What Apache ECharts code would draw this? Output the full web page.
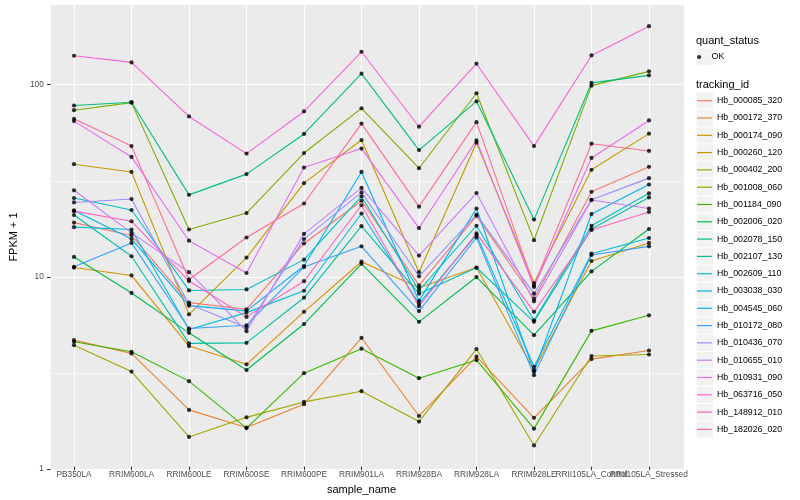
<!DOCTYPE html>
<html><head><meta charset="utf-8">
<script src="https://cdn.jsdelivr.net/npm/echarts@6/dist/echarts.min.js"></script>
<style>html,body{margin:0;padding:0;background:#fff}#c{width:800px;height:500px}</style>
</head><body><div id="c"></div>
<script>
// ---- data ----
const categories = ['PB350LA','RRIM600LA','RRIM600LE','RRIM600SE','RRIM600PE','RRIM901LA','RRIM928BA','RRIM928LA','RRIM928LE','RRII105LA_Control','RRII105LA_Stressed'];
const yTickValues = [1, 10, 100];
const yMinorValues = [3.1623, 31.623];
const trackingIds = ['Hb_000085_320','Hb_000172_370','Hb_000174_090','Hb_000260_120','Hb_000402_200','Hb_001008_060','Hb_001184_090','Hb_002006_020','Hb_002078_150','Hb_002107_130','Hb_002609_110','Hb_003038_030','Hb_004545_060','Hb_010172_080','Hb_010436_070','Hb_010655_010','Hb_010931_090','Hb_063716_050','Hb_148912_010','Hb_182026_020'];
const lineColors = ['#F8766D','#EA8331','#D89000','#C09B00','#A3A500','#7CAE00','#39B600','#00BB4E','#00BF7D','#00C1A3','#00BFC4','#00BAE0','#00B0F6','#35A2FF','#9590FF','#C77CFF','#E76BF3','#FA62DB','#FF62BC','#FF6C91'];

const Hb_000085_320 = [18.9, 16.2, 7.21, 6.65, 14.7, 24.6, 8.87, 20.5, 7.56, 27.4, 37.0];
const Hb_000172_370 = [4.59, 3.91, 1.98, 1.60, 2.12, 4.72, 1.84, 3.76, 1.80, 3.65, 4.05];
const Hb_000174_090 = [11.0, 10.0, 4.27, 3.43, 6.45, 11.8, 8.63, 11.0, 3.20, 11.9, 14.8];
const Hb_000260_120 = [38.2, 34.8, 6.26, 12.4, 30.4, 51.1, 10.4, 49.5, 9.13, 35.7, 55.2];
const Hb_000402_200 = [4.32, 3.14, 1.43, 1.81, 2.18, 2.48, 1.72, 4.12, 1.29, 3.79, 3.86];
const Hb_001008_060 = [73.2, 80.2, 17.4, 21.2, 43.7, 74.9, 36.4, 89.8, 15.3, 98.4, 116.9];
const Hb_001184_090 = [4.50, 3.99, 2.80, 1.59, 3.08, 4.14, 2.90, 3.61, 1.58, 5.13, 6.19];
const Hb_002006_020 = [12.5, 8.10, 5.01, 3.20, 5.57, 11.5, 5.72, 9.81, 4.87, 10.5, 17.5];
const Hb_002078_150 = [77.5, 80.6, 26.4, 33.9, 55.0, 113.7, 45.3, 81.5, 19.6, 101.7, 111.4];
const Hb_002107_130 = [20.7, 12.6, 4.41, 4.44, 7.65, 18.1, 8.03, 10.97, 5.72, 17.5, 25.6];
const Hb_002609_110 = [25.4, 22.0, 8.35, 8.45, 12.1, 25.9, 8.35, 18.2, 5.83, 18.2, 26.9];
const Hb_003038_030 = [17.9, 17.4, 5.21, 6.39, 8.32, 21.1, 7.12, 16.3, 3.33, 13.0, 15.7];
const Hb_004545_060 = [21.9, 15.5, 6.95, 6.53, 11.2, 34.8, 7.36, 22.4, 3.14, 20.96, 29.9];
const Hb_010172_080 = [11.1, 14.8, 5.28, 5.49, 11.06, 14.2, 6.51, 15.8, 3.01, 12.8, 14.2];
const Hb_010436_070 = [24.1, 25.1, 7.06, 5.34, 15.5, 27.2, 9.90, 20.8, 8.03, 24.9, 32.3];
const Hb_010655_010 = [27.9, 16.7, 10.4, 5.11, 16.5, 28.7, 12.7, 27.0, 7.32, 24.8, 22.4];
const Hb_010931_090 = [64.2, 41.7, 15.2, 10.3, 36.7, 46.1, 17.7, 50.9, 8.70, 41.2, 64.7];
const Hb_063716_050 = [141.1, 130.2, 67.9, 43.4, 72.1, 148.0, 60.0, 128.2, 47.5, 141.6, 201.5];
const Hb_148912_010 = [21.7, 19.2, 9.35, 6.07, 9.33, 23.3, 6.90, 16.6, 6.45, 17.3, 21.5];
const Hb_182026_020 = [66.0, 47.5, 9.53, 15.8, 23.8, 62.3, 22.9, 63.4, 8.87, 48.9, 44.8];

const seriesValues = [Hb_000085_320, Hb_000172_370, Hb_000174_090, Hb_000260_120, Hb_000402_200, Hb_001008_060, Hb_001184_090, Hb_002006_020, Hb_002078_150, Hb_002107_130, Hb_002609_110, Hb_003038_030, Hb_004545_060, Hb_010172_080, Hb_010436_070, Hb_010655_010, Hb_010931_090, Hb_063716_050, Hb_148912_010, Hb_182026_020];

// ---- layout ----
const FONT = 'Liberation Sans';
const panel = {left: 40, top: 5, width: 644, height: 464};
const dataGrid = {left: 74, top: 5, width: 575, height: 464};
const yMin = 1, yMax = 260;
const legX = 697, keyStep = 17.3, leg2Top = 92.05, leg1Top = 48.35;

const lineSeries = trackingIds.map((id, i) => ({
  name: id, type: 'line', xAxisIndex: 1, yAxisIndex: 2,
  data: seriesValues[i], showSymbol: false, symbol: 'none',
  color: lineColors[i],
  lineStyle: {color: lineColors[i], width: 1.1},
  emphasis: {disabled: true}, silent: true, z: 2
}));
const pointData = [];
seriesValues.forEach(vals => vals.forEach((v, j) => pointData.push([j, v])));
const pointSeries = {
  name: 'OK', type: 'scatter', xAxisIndex: 1, yAxisIndex: 2,
  data: pointData, symbol: 'circle', symbolSize: 4.2,
  itemStyle: {color: '#000'}, color: '#000',
  emphasis: {disabled: true}, silent: true, z: 5
};

const graphics = [];
graphics.push({type: 'text', left: 696, top: 35, style: {text: 'quant_status', font: '11px ' + FONT, fill: '#000'}, z: 10});
graphics.push({type: 'text', left: 696, top: 79, style: {text: 'tracking_id', font: '11px ' + FONT, fill: '#000'}, z: 10});
graphics.push({type: 'rect', shape: {x: legX - 0.5, y: leg1Top + 0.5, width: 16.5, height: keyStep - 1}, style: {fill: '#F2F2F2'}, z: -1, silent: true});
for (let i = 0; i < trackingIds.length; i++) {
  graphics.push({type: 'rect', shape: {x: legX - 0.5, y: leg2Top + i * keyStep + 0.5, width: 16.5, height: keyStep - 1}, style: {fill: '#F2F2F2'}, z: -1, silent: true});
}

const option = {
  animation: false,
  backgroundColor: '#fff',
  textStyle: {fontFamily: FONT},
  grid: [
    Object.assign({backgroundColor: '#EBEBEB', show: true, borderWidth: 0, containLabel: false}, panel),
    Object.assign({show: false, containLabel: false}, dataGrid)
  ],
  xAxis: [
    {type: 'value', gridIndex: 0, show: false, min: 0, max: 1},
    {type: 'category', gridIndex: 1, data: categories, boundaryGap: false, position: 'bottom',
     axisLine: {show: false},
     axisTick: {show: true, length: 3.7, interval: 0, lineStyle: {color: '#333', width: 1}},
     axisLabel: {interval: 0, fontSize: 8.3, color: '#4D4D4D', margin: 4.5, fontFamily: FONT, hideOverlap: false},
     splitLine: {show: true, interval: 0, lineStyle: {color: '#fff', width: 1.1}},
     name: 'sample_name', nameLocation: 'middle', nameGap: 14.5,
     nameTextStyle: {fontSize: 11, color: '#000', fontFamily: FONT}
    }
  ],
  yAxis: [
    {type: 'log', gridIndex: 0, position: 'left', min: yMin, max: yMax, logBase: 10,
     axisLine: {show: false}, axisTick: {show: false, customValues: yMinorValues},
     axisLabel: {show: false, customValues: yMinorValues},
     splitLine: {show: true, lineStyle: {color: '#fff', width: 0.55}}},
    {type: 'log', gridIndex: 0, position: 'left', offset: 0, min: yMin, max: yMax, logBase: 10,
     axisLine: {show: false},
     axisTick: {show: true, length: 3.7, customValues: yTickValues, lineStyle: {color: '#333', width: 1}},
     axisLabel: {fontSize: 8.3, color: '#4D4D4D', margin: 7, fontFamily: FONT, customValues: yTickValues,
       formatter: v => (yTickValues.indexOf(Math.round(v)) >= 0 && Math.abs(v - Math.round(v)) < 1e-6) ? String(Math.round(v)) : ''},
     splitLine: {show: true, lineStyle: {color: '#fff', width: 1.1}},
     name: 'FPKM + 1', nameLocation: 'middle', nameGap: 23,
     nameTextStyle: {fontSize: 11, color: '#000', fontFamily: FONT}},
    {type: 'log', gridIndex: 1, position: 'left', min: yMin, max: yMax, logBase: 10, show: false,
     axisLine: {show: false}, axisTick: {show: false}, axisLabel: {show: false}, splitLine: {show: false}}
  ],
  legend: [
    {data: ['OK'], left: legX, top: leg1Top, orient: 'vertical', padding: 0, itemGap: 0,
     itemWidth: 15, itemHeight: 4.2, icon: 'circle', selectedMode: false,
     textStyle: {fontSize: 8.8, color: '#000', fontFamily: FONT, lineHeight: keyStep}},
    {data: trackingIds, left: legX, top: leg2Top, orient: 'vertical', padding: 0, itemGap: 0,
     itemWidth: 15, itemHeight: 1.2, icon: 'rect', selectedMode: false,
     textStyle: {fontSize: 8.8, color: '#000', fontFamily: FONT, lineHeight: keyStep}}
  ],
  graphic: graphics,
  series: lineSeries.concat([pointSeries])
};
const chart = echarts.init(document.getElementById('c'), null, {renderer: 'canvas'});
chart.setOption(option);
</script>
</body></html>
